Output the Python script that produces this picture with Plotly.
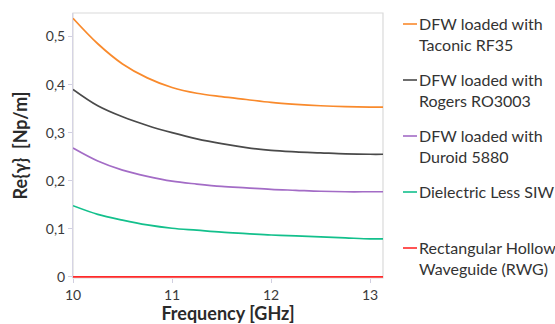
import plotly.graph_objects as go

freq = [10.0, 10.25, 10.5, 10.75, 11.0, 11.25, 11.5, 11.75, 12.0, 12.25, 12.5, 12.75, 13.0, 13.13]
taconic = [0.538, 0.485, 0.443, 0.414, 0.394, 0.382, 0.375, 0.369, 0.363, 0.359, 0.356, 0.354, 0.353, 0.353]
rogers = [0.390, 0.356, 0.333, 0.315, 0.300, 0.287, 0.277, 0.269, 0.263, 0.260, 0.258, 0.256, 0.255, 0.255]
duroid = [0.268, 0.241, 0.222, 0.209, 0.199, 0.193, 0.188, 0.185, 0.182, 0.180, 0.178, 0.177, 0.177, 0.177]
siw = [0.148, 0.130, 0.118, 0.108, 0.101, 0.097, 0.093, 0.090, 0.087, 0.085, 0.083, 0.081, 0.079, 0.079]
rwg = [0.0] * len(freq)

series = [taconic, rogers, duroid, siw, rwg]
names = ["DFW loaded with<br>Taconic RF35", "DFW loaded with<br>Rogers RO3003",
         "DFW loaded with<br>Duroid 5880", "Dielectric Less SIW",
         "Rectangular Hollow<br>Waveguide (RWG)"]
colors = ["#f98a2c", "#4a4a4a", "#a36cc6", "#13c08c", "#ff2a2a"]

x_ticks = [10, 11, 12, 13]
y_ticks = [0, 0.1, 0.2, 0.3, 0.4, 0.5]

W, H = 555, 324
L, R, T, B = 73, 172, 13, 46
pw, ph = W - L - R, H - T - B

fig = go.Figure()
for vals, name, col in zip(series, names, colors):
    fig.add_trace(go.Scatter(x=freq, y=vals, mode="lines", name=name,
                             line=dict(color=col, width=1.7, shape="spline"),
                             showlegend=False))

# plot frame (drawn beneath the curves)
shapes = [dict(type="rect", xref="paper", yref="paper", x0=0, x1=1, y0=0, y1=1,
               layer="below", line=dict(color="#dadada", width=1.2))]
annotations = []
for i, (name, col) in enumerate(zip(names, colors)):
    ypx = 24 + 56 * i
    yp = (H - B - ypx) / ph
    x0 = (403 - L) / pw
    x1 = (417 - L) / pw
    shapes.append(dict(type="line", xref="paper", yref="paper", x0=x0, x1=x1, y0=yp, y1=yp,
                       line=dict(color=col, width=1.6)))
    annotations.append(dict(xref="paper", yref="paper", x=(417 - L) / pw, y=(H - B - ypx + 12) / ph,
                            xanchor="left", yanchor="top", align="left", showarrow=False,
                            text=name, font=dict(family="Lato", size=16, color="#333333")))

fig.update_layout(
    width=W, height=H, margin=dict(l=L, r=R, t=T, b=B),
    paper_bgcolor="white", plot_bgcolor="white",
    separators=", ",
    font=dict(family="Lato", size=14, color="#3a3a3a"),
    shapes=shapes, annotations=annotations,
    xaxis=dict(range=[10, 13.13], tickvals=x_ticks, showgrid=False, zeroline=False,
               showline=False, ticks="outside",
               ticklen=4, tickcolor="#d0cfe0", automargin=False,
               title=dict(text="<b>Frequency [GHz]</b>", font=dict(size=18, color="#2a2a2a"), standoff=4)),
    yaxis=dict(range=[-0.0025, 0.549], tickvals=y_ticks, showgrid=False, zeroline=False,
               showline=True, linecolor="#d6d4e4", mirror=False, ticks="outside",
               ticklen=4, tickcolor="#d0cfe0", automargin=False, layer="below traces",
               title=dict(text="<b>Re{γ}  [Np/m]</b>", font=dict(size=18, color="#2a2a2a"), standoff=13)),
)

fig.write_html("out.html")
